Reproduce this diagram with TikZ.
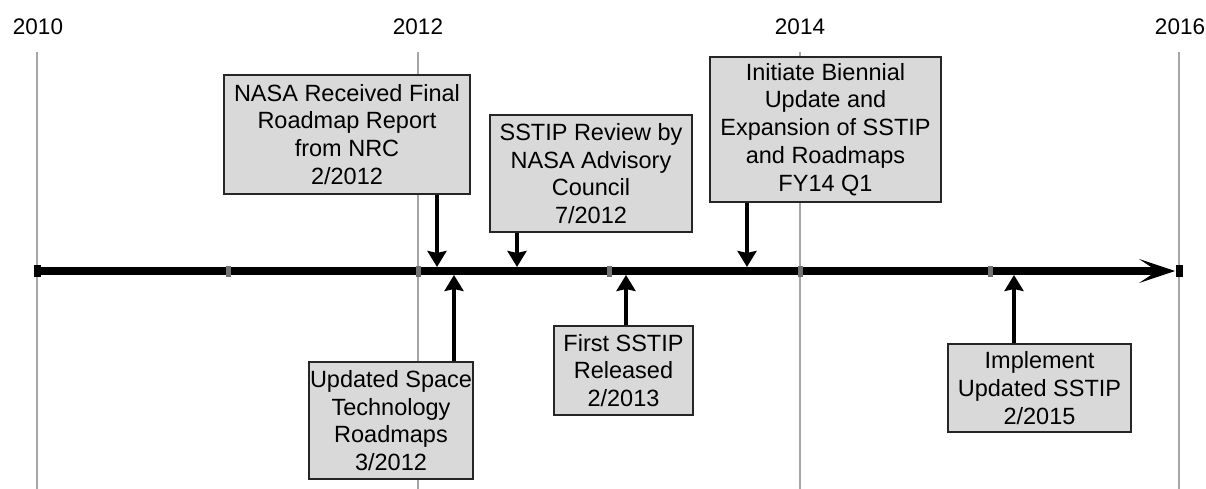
\documentclass[tikz,border=0pt]{standalone}
\usepackage{fontspec}
\setmainfont{Liberation Sans}
\usetikzlibrary{arrows.meta}
\begin{document}
\begin{tikzpicture}[x=1pt,y=-1pt,
  gridline/.style={draw=black!35, line width=1.5pt},
  yearlabel/.style={font=\fontsize{22.5}{26}\selectfont, inner sep=0pt},
  event/.style={draw=black!85, line width=1.8pt, fill=black!15, align=center,
    font=\fontsize{23.5}{27.8}\selectfont, inner sep=1pt},
  mainline/.style={line width=7.5pt, -{Stealth[length=36pt,width=24pt,inset=18pt,line width=1pt]}},
  evarrow/.style={line width=4.5pt, -{Stealth[length=16pt,width=19pt,inset=2pt]}},
  tickmark/.style={fill=black!55, inner sep=0pt, minimum width=5pt, minimum height=11pt},
  endmark/.style={fill=black, inner sep=0pt, minimum width=7pt, minimum height=12pt},
]
\useasboundingbox (0,0) rectangle (1206,489);

% year labels
\node[yearlabel] (y2010) at (38,27) {2010};
\node[yearlabel] (y2012) at (418,27) {2012};
\node[yearlabel] (y2014) at (800,27) {2014};
\node[yearlabel] (y2016) at (1180,27) {2016};

% grid lines
\foreach \x in {37,418,800,1179}
  \draw[gridline] (\x,52) -- (\x,489);

% timeline
\coordinate (t0) at (37,271);
\coordinate (tip) at (1175,271);
\draw[mainline] (t0) -- (tip);
\node[endmark] (m2010) at (37,271) {};
\node[tickmark] (m2011) at (228,271) {};
\node[tickmark] (m2012) at (418,271) {};
\node[tickmark] (m2013) at (609,271) {};
\node[tickmark] (m2014) at (800,271) {};
\node[tickmark] (m2015) at (990,271) {};
\node[endmark] (m2016) at (1179,271) {};

% events above
\node[event, minimum width=246pt, minimum height=119pt] (b1) at (347,134.5)
  {NASA Received Final\\Roadmap Report\\from NRC\\2/2012};
\node[event, minimum width=202pt, minimum height=117pt] (b2) at (591,173.5)
  {SSTIP Review by\\NASA Advisory\\Council\\7/2012};
\node[event, minimum width=231pt, minimum height=145pt] (b3) at (825.5,129.5)
  {Initiate Biennial\\Update and\\Expansion of SSTIP\\and Roadmaps\\FY14 Q1};

% events below
\node[event, minimum width=161pt, minimum height=117pt] (b4) at (391,420.5)
  {Updated Space\\Technology\\Roadmaps\\3/2012};
\node[event, minimum width=139pt, minimum height=89pt] (b5) at (623.5,370.5)
  {First SSTIP\\Released\\2/2013};
\node[event, minimum width=183pt, minimum height=88pt] (b6) at (1039.5,388)
  {Implement\\Updated SSTIP\\2/2015};

% arrows
\coordinate (a1) at (437,267);
\coordinate (a2) at (517,267);
\coordinate (a3) at (747,267);
\coordinate (a4) at (454,275);
\coordinate (a5) at (626,275);
\coordinate (a6) at (1014,275);
\draw[evarrow] (b1.south -| a1) -- (a1);
\draw[evarrow] (b2.south -| a2) -- (a2);
\draw[evarrow] (b3.south -| a3) -- (a3);
\draw[evarrow] (b4.north -| a4) -- (a4);
\draw[evarrow] (b5.north -| a5) -- (a5);
\draw[evarrow] (b6.north -| a6) -- (a6);
\end{tikzpicture}
\end{document}
